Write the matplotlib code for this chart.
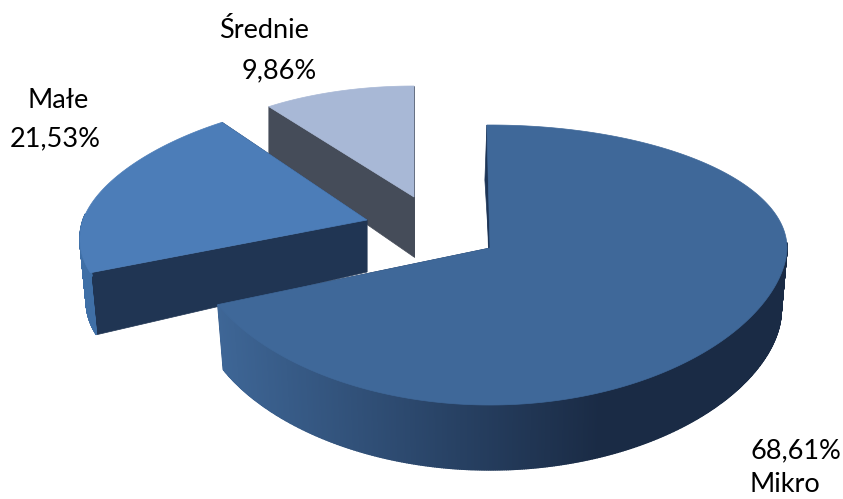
import numpy as np
import matplotlib
matplotlib.use('Agg')
import matplotlib.pyplot as plt
from matplotlib.patches import Polygon

labels = ['Mikro', 'Małe', 'Średnie']
values = [68.61, 21.53, 9.86]
value_texts = ['68,61%', '21,53%', '9,86%']

top_colors = ['#3f6899', '#4c7db8', '#a8b8d6']
cut_colors = ['#1d3557', '#203553', '#454c59']

# cx, cy, rx, ry back, ry front, k, depth at rim, depth at apex, taper, front power, turn
geometry = {
    'Mikro': (490, 248, 297, 123, 157, 0.0, 65, 65, 0.02, 1.115, -0.6),
    'Małe': (367, 220, 284, 120, 135, 0.149, 62, 52, 0.022, 1.0, 0.0),
    'Średnie': (414, 197, 250, 111, 111, 0.0, 50, 60, 0.0, 1.0, 0.0),
}

plt.rcParams['font.family'] = ['Lato', 'DejaVu Sans']
fig = plt.figure(figsize=(8.43, 4.99), dpi=100)
ax = fig.add_axes([0, 0, 1, 1])
ax.set_xlim(0, 843)
ax.set_ylim(499, 0)
ax.axis('off')


def rim(name, t):
    cx, cy, rx, ry_b, ry_f, k, depth, apex_depth, taper, power, turn = geometry[name]
    u, v = np.sin(t), np.cos(t)
    x = cx + rx * u * (1 - k * v)
    y = np.where(v > 0, cy - ry_b * v, cy + ry_f * np.abs(v) ** power)
    return x, y


def side_color(x):
    # dark gradient along the Mikro wall, flat after x=600
    c0 = np.array(matplotlib.colors.to_rgb('#3e6696'))
    c1 = np.array(matplotlib.colors.to_rgb('#1a2b45'))
    f = np.clip((x - 218) / (600 - 218), 0, 1)
    return c0 + (c1 - c0) * f


edges = np.radians(np.cumsum([0] + values) * 3.6)

for i in [2, 1, 0]:
    name = labels[i]
    cx, cy, rx, ry_b, ry_f, k, depth, apex_depth, taper, power, turn = geometry[name]
    t = np.linspace(edges[i] + np.radians(turn), edges[i + 1] + np.radians(turn), 700)
    x, y = rim(name, t)
    xb = cx + (x - cx) * (1 - taper)

    # walls of the cut sides
    for j in [0, -1]:
        ax.add_patch(Polygon([(cx, cy), (x[j], y[j]), (xb[j], y[j] + depth), (cx, cy + apex_depth)],
                             closed=True, fc=cut_colors[i], ec=cut_colors[i], lw=0.5))

    # outer wall, only the front part shows
    for a in range(len(t) - 1):
        if np.cos(t[a]) > 0.05:
            continue
        col = side_color(x[a]) if i == 0 else '#3f6fa6'
        ax.add_patch(Polygon([(x[a], y[a]), (x[a + 1], y[a + 1]),
                              (xb[a + 1], y[a + 1] + depth), (xb[a], y[a] + depth)],
                             closed=True, fc=col, ec=col, lw=1.0))

    # thin dark sliver on the inner side of Mikro
    if i == 0:
        ax.add_patch(Polygon([(cx, cy), (x[0], y[0]), (x[0] - 2, y[0] + 55), (cx - 1, cy)],
                             closed=True, fc=cut_colors[0], ec=cut_colors[0], lw=0.5))

    pts = [(cx, cy)] + list(zip(x, y))
    ax.add_patch(Polygon(pts, closed=True, fc=top_colors[i], ec=top_colors[i], lw=0.5))

fs = 19.5
ax.text(264, 30, labels[2], fontsize=fs, ha='center', va='center')
ax.text(279, 71, value_texts[2], fontsize=fs, ha='center', va='center')
ax.text(58, 100, labels[1], fontsize=fs, ha='center', va='center')
ax.text(55, 139, value_texts[1], fontsize=fs, ha='center', va='center')
ax.text(796, 451, value_texts[0], fontsize=fs, ha='center', va='center')
ax.text(750, 485, labels[0], fontsize=fs, ha='left', va='center')

fig.savefig('out.png', dpi=100, facecolor='white')
